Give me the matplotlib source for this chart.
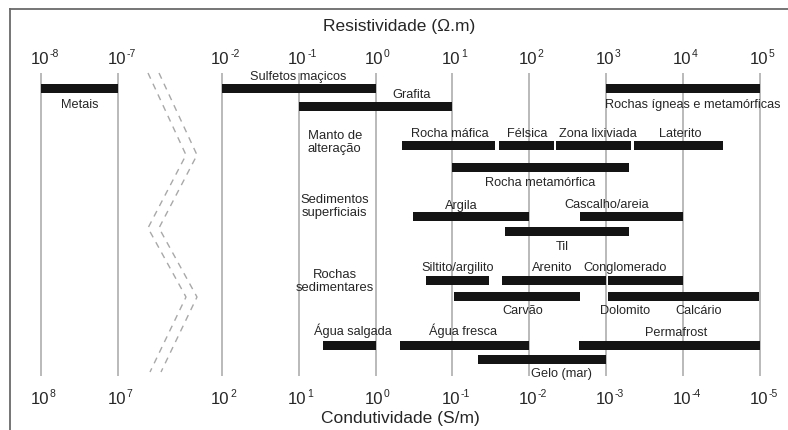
import numpy as np
import matplotlib
matplotlib.use("Agg")
import matplotlib.pyplot as plt
from matplotlib.transforms import Affine2D, offset_copy

plt.rcParams['font.family'] = ['Liberation Sans', 'DejaVu Sans']

# ---- data: resistivity ranges (ohm.m) ----
materials = ["Metais", "Sulfetos maçicos", "Rochas ígneas e metamórficas", "Grafita",
             "Rocha máfica", "Félsica", "Zona lixiviada", "Laterito",
             "Rocha metamórfica", "Argila", "Cascalho/areia", "Til",
             "Siltito/argilito", "Arenito", "Conglomerado", "Carvão",
             "Dolomito/Calcário", "Água salgada", "Água fresca", "Permafrost",
             "Gelo (mar)"]
rho_min = [1e-8, 1e-2, 1e3, 1e-1,
           2.2, 40, 225, 2300,
           10, 3.1, 450, 49,
           4.6, 44, 1060, 10.5,
           1060, 0.21, 2.1, 440,
           21.5]
rho_max = [1e-7, 1.0, 1e5, 10,
           36, 210, 2100, 33000,
           2000, 100, 1e4, 2000,
           30, 1000, 1e4, 460,
           9.7e4, 1.0, 100, 1e5,
           1000]
bar_row = [0, 0, 0, 1,
           2, 2, 2, 2,
           3, 4, 4, 5,
           6, 6, 6, 7,
           7, 8, 8, 8,
           9]

resist_ticks = [1e-8, 1e-7, 1e-2, 1e-1, 1e0, 1e1, 1e2, 1e3, 1e4, 1e5]

# ---- layout (pixel rows, label anchors) ----
W, H = 788, 430
row_y = [88, 106, 145.5, 167, 216, 231, 280.5, 296, 345, 359.5]
bar_h = 9

# (text, log10 resistivity of label centre, baseline y)
labels = [
    ("Metais", -7.5, 107.5),
    ("Sulfetos maçicos", -1.0, 80),
    ("Rochas ígneas e metamórficas", 4.12, 108),
    ("Grafita", 0.47, 97.5),
    ("Rocha máfica", 0.97, 137),
    ("Félsica", 1.97, 137),
    ("Zona lixiviada", 2.89, 137),
    ("Laterito", 3.96, 137),
    ("Rocha metamórfica", 2.14, 185.5),
    ("Argila", 1.12, 208.5),
    ("Cascalho/areia", 3.01, 208.5),
    ("Til", 2.43, 249.5),
    ("Siltito/argilito", 1.07, 271),
    ("Arenito", 2.30, 271),
    ("Conglomerado", 3.24, 271),
    ("Carvão", 1.92, 314),
    ("Dolomito", 3.24, 314),
    ("Calcário", 4.20, 314),
    ("Água salgada", -0.30, 335.5),
    ("Água fresca", 1.14, 335.5),
    ("Permafrost", 3.91, 335.5),
    ("Gelo (mar)", 2.42, 377.5),
]
groups = [
    ("Manto de\nalteração", -0.53, 142.5),
    ("Sedimentos\nsuperficiais", -0.53, 206.5),
    ("Rochas\nsedimentares", -0.53, 281.5),
]

# ---- broken log scale: 1e-8..1e-7 shown, 1e-7..1e-2 compressed ----
DEC = 76.9          # pixels per decade
X_1E_2 = 221.7      # pixel position of 1e-2
GAP = (X_1E_2 - 118.3) / DEC   # width of the break in decades
SHIFT = -2 - GAP + 7


def fwd(v):
    v = np.asarray(v, dtype=float)
    with np.errstate(divide='ignore', invalid='ignore'):
        lv = np.log10(np.where(v > 0, v, np.nan))
    mid = (-7 + SHIFT) + (lv + 7) * GAP / 5
    return np.where(lv <= -7, lv + SHIFT, np.where(lv >= -2, lv, mid))


def inv(u):
    u = np.asarray(u, dtype=float)
    lo = -7 + SHIFT
    mid = -7 + (u - lo) * 5 / GAP
    lv = np.where(u <= lo, u - SHIFT, np.where(u >= -2, u, mid))
    return 10.0 ** lv


fig = plt.figure(figsize=(W / 100, H / 100), dpi=100)
ax = fig.add_axes([0, 0, 1, 1])
ax.set_xscale('function', functions=(fwd, inv))
u_left = -2 - X_1E_2 / DEC
u_right = -2 + (W - X_1E_2) / DEC
ax.set_xlim(inv(u_left), inv(u_right))
ax.set_ylim(H, 0)
ax.axis('off')

# decade grid lines
ax.vlines(resist_ticks, 73, 376, color='#b4b4b4', lw=1.3, zorder=1)

# bars
for lo, hi, r in zip(rho_min, rho_max, bar_row):
    ax.barh(row_y[r], hi - lo, left=lo, height=bar_h, color='#141414',
            edgecolor='none', zorder=3)

txt = '#262626'
for s, lx, y in labels:
    ax.text(10 ** lx, y, s, ha='center', va='baseline', fontsize=9.2, color=txt, zorder=4)
for s, lx, y in groups:
    ax.text(10 ** lx, y, s, ha='center', va='center', fontsize=9.4, color=txt,
            linespacing=1.15, zorder=4)


def power_label(x, y, exp):
    """'10' with a small raised exponent, centred on x."""
    base_tr = offset_copy(ax.transData, fig=fig, x=8 * 0.72, y=0, units='points')
    sup_tr = offset_copy(ax.transData, fig=fig, x=8.5 * 0.72, y=6.3 * 0.72, units='points')
    ax.text(x, y, "10", transform=base_tr, ha='right', va='baseline',
            fontsize=12, color=txt)
    ax.text(x, y, str(exp), transform=sup_tr, ha='left', va='baseline',
            fontsize=7.5, color=txt)


# tick labels: resistivity on top, conductivity (1/rho) at the bottom
for t in resist_ticks:
    e = int(round(np.log10(t)))
    power_label(t, 63.5, e)
    power_label(t, 403.5, -e)

ax.text(399 / W, 1 - 31.5 / H, "Resistividade (Ω.m)", transform=ax.transAxes,
        ha='center', va='baseline', fontsize=12.5, color=txt)
ax.text(400 / W, 1 - 423 / H, "Condutividade (S/m)", transform=ax.transAxes,
        ha='center', va='baseline', fontsize=12.5, color=txt)

# pixel -> figure transform for decorations
px = Affine2D().scale(1 / W, -1 / H).translate(0, 1) + fig.transFigure

# axis-break zigzag (two parallel dashed lines)
zx = np.array([148, 186, 148, 186, 150])
zy = np.array([73, 155, 228, 297, 372])
for off in (0, 11):
    ax.plot(zx + off, zy, transform=px, color='#a8a8a8', lw=1.0,
            dashes=(4.5, 4), clip_on=False, zorder=2)

# outer frame (top and left edges)
ax.plot([10, W], [9, 9], transform=px, color='#6a6a6a', lw=1.3, clip_on=False)
ax.plot([10, 10], [9, H], transform=px, color='#6a6a6a', lw=1.3, clip_on=False)

fig.savefig("out.png", dpi=100)
